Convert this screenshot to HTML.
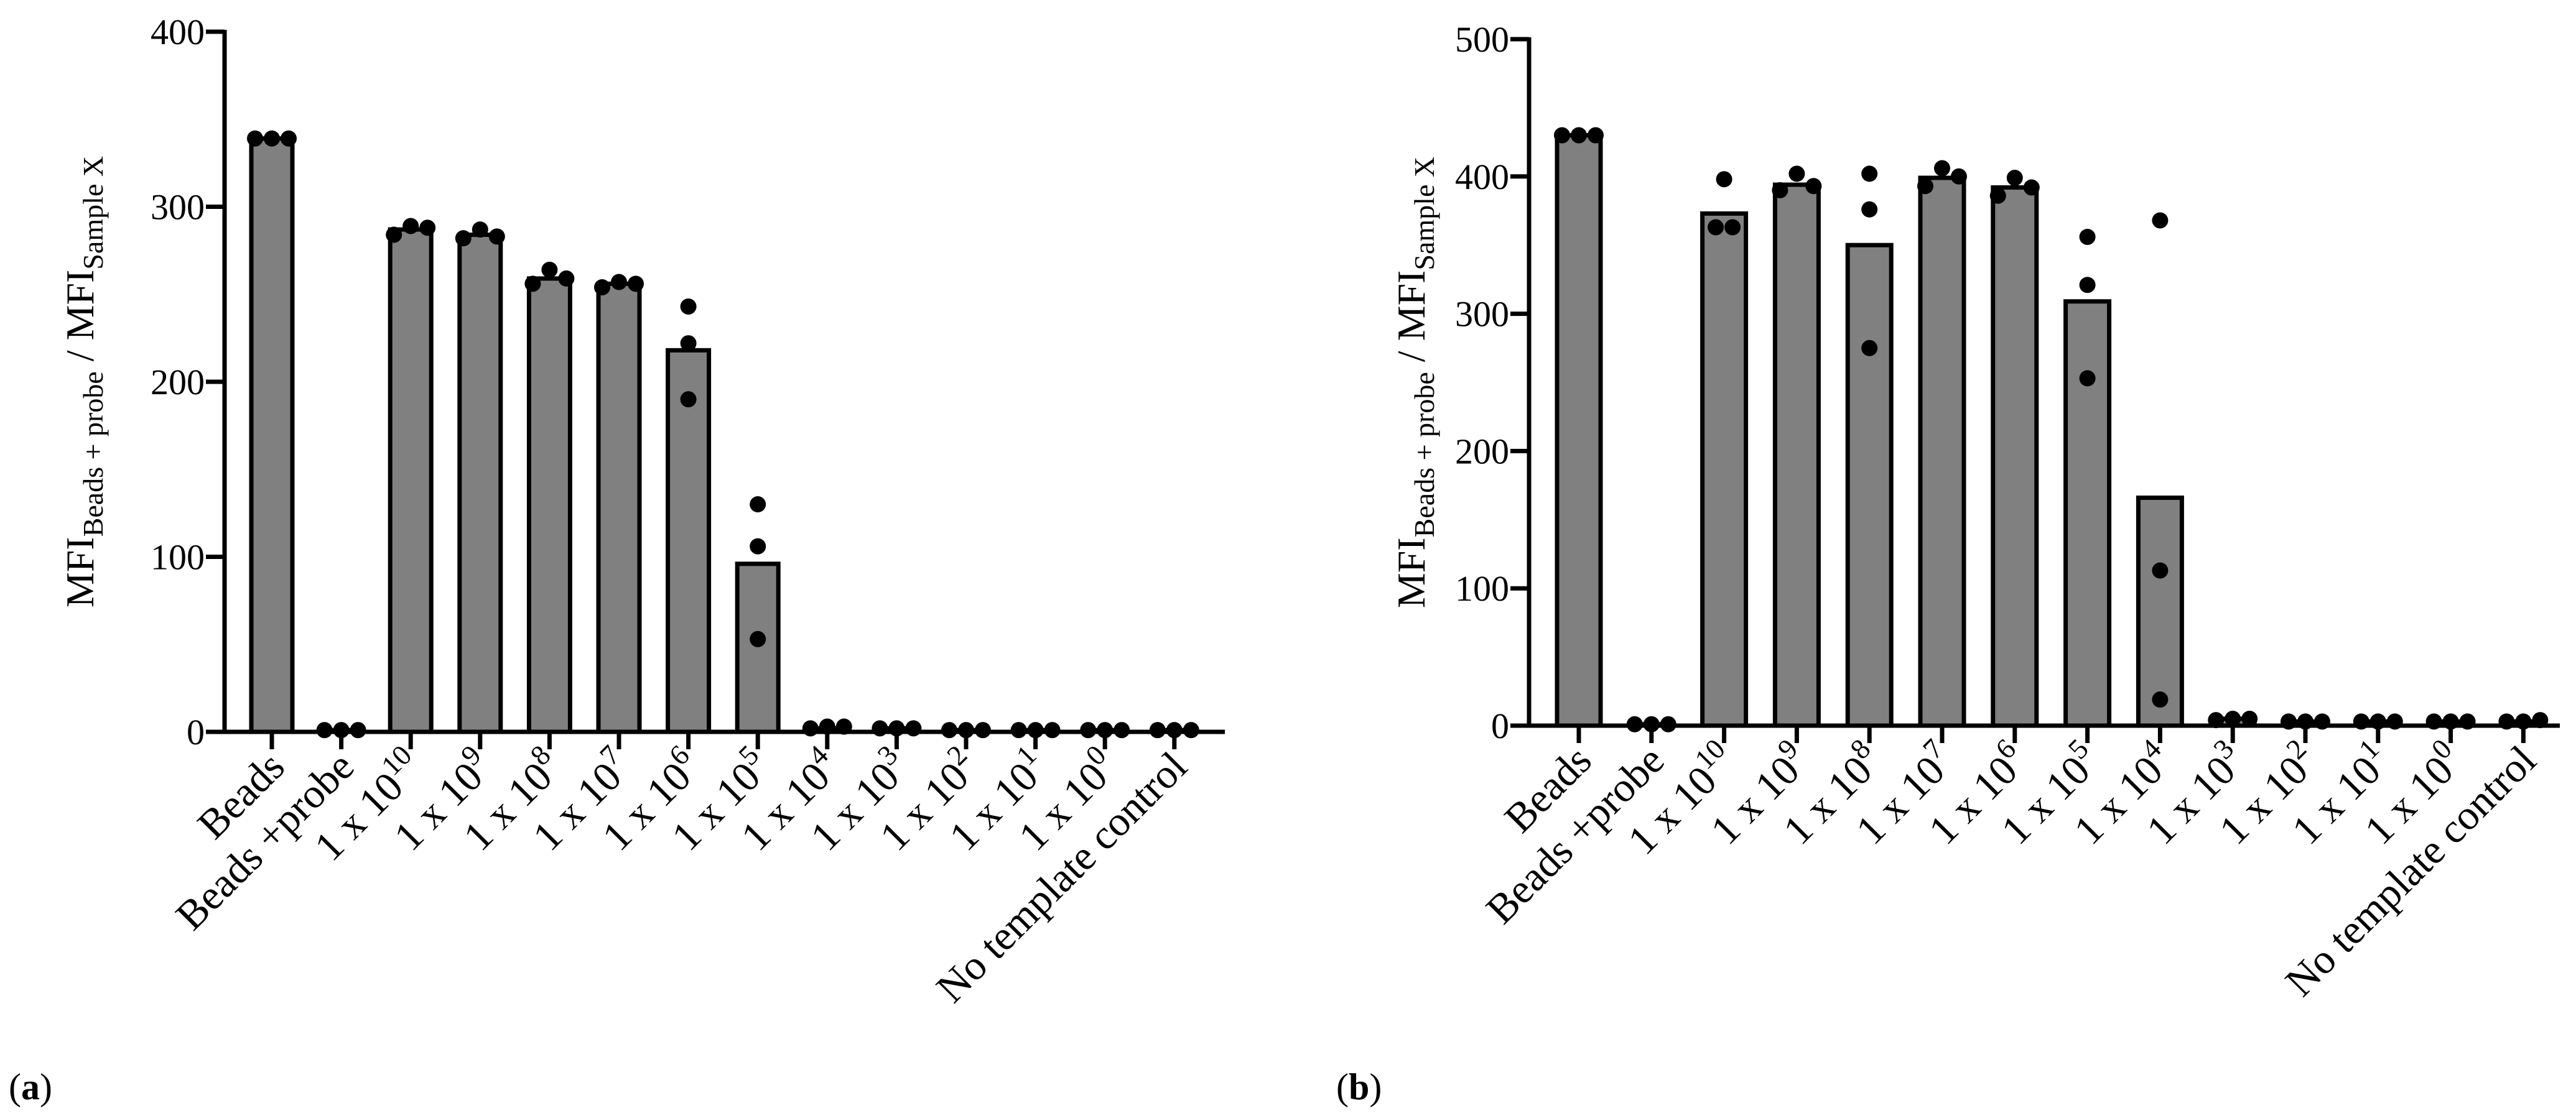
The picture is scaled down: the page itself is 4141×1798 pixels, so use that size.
<!DOCTYPE html>
<html><head><meta charset="utf-8"><style>
html,body{margin:0;padding:0;background:#fff;}
svg{display:block;font-family:"Liberation Serif",serif;}
</style></head><body>
<svg id="fig" width="4141" height="1798" viewBox="0 0 4141 1798">
<text x="14" y="1768" font-size="60">(<tspan font-weight="bold">a</tspan>)</text>
<text x="2148" y="1768" font-size="60">(<tspan font-weight="bold">b</tspan>)</text>
</svg>
<script>
const categories = ["Beads","Beads +probe","1 x 10^10","1 x 10^9","1 x 10^8","1 x 10^7","1 x 10^6","1 x 10^5","1 x 10^4","1 x 10^3","1 x 10^2","1 x 10^1","1 x 10^0","No template control"];
const barsA = [339,1,287,284,259,256,218,96,2,2,1,1,1,1];
const dotsA = [[339,339,339],[1,1,1],[284,289,288],[282,287,283],[256,264,259],[254,257,256],[190,222,243],[53,106,130],[2,3,3],[2,2,2],[1,1,1],[1,1,1],[1,1,1],[1,1,1]];
const ticksA = [0,100,200,300,400];
const barsB = [430,1,373,394,350,399,392,309,166,5,3,3,3,3];
const dotsB = [[430,430,430],[1,1,1],[363,398,363],[390,402,393],[275,376,402],[393,406,400],[386,399,392],[253,321,356],[19,113,368],[4,5,5],[3,3,3],[3,3,3],[3,3,3],[3,3,4]];
const ticksB = [0,100,200,300,400,500];

const NS = "http://www.w3.org/2000/svg";
const svg = document.getElementById("fig");
function mk(tag, attrs, parent){
  const e = document.createElementNS(NS, tag);
  for (const k in attrs) e.setAttribute(k, attrs[k]);
  (parent||svg).appendChild(e);
  return e;
}

function drawChart(cfg){
  const g = mk("g", {});
  
  
  const yMax = cfg.ticks[cfg.ticks.length-1];
  const y = v => cfg.y0 - (v / yMax) * (cfg.y0 - cfg.yTop);
  const x = i => cfg.x0 + i * cfg.step;
  const lw = 7;
  cfg.bars.forEach((v,i)=>{
    const r = mk("rect", {x:x(i)-cfg.bw/2, y:y(v), width:cfg.bw, height:Math.max(cfg.y0-y(v),0), fill:"#808080", stroke:"#000", "stroke-width":lw}, g);
    
    
  });
  const rad = 13;
  cfg.dots.forEach((arr,i)=>{
    const py = arr.map(v=>y(v));
    const coll = arr.map((v,j)=>py.some((p,k)=>k!==j && Math.abs(p-py[j]) < 2*rad));
    const cidx = [];
    coll.forEach((c,j)=>{ if(c) cidx.push(j); });
    arr.forEach((v,j)=>{
      let off = 0;
      if (coll[j]) {
        const n = cidx.length, pos = cidx.indexOf(j);
        off = (pos - (n-1)/2) * (2*rad + 1);
      }
      const c = mk("circle", {cx:x(i)+off, cy:py[j], r:rad, fill:"#000"}, g);
      
      
    });
  });
  const ya = mk("line", {x1:cfg.axX, y1:cfg.yTop-3, x2:cfg.axX, y2:cfg.y0+lw/2, stroke:"#000", "stroke-width":lw}, g);
  
  
  const xa = mk("line", {x1:cfg.axX-lw/2, y1:cfg.y0, x2:cfg.xEnd, y2:cfg.y0, stroke:"#000", "stroke-width":lw}, g);
  
  
  cfg.ticks.forEach(t=>{
    const l = mk("line", {x1:cfg.axX-30, y1:y(t), x2:cfg.axX, y2:y(t), stroke:"#000", "stroke-width":lw}, g);
    
    
    const tx = mk("text", {x:cfg.axX-32, y:y(t)+20, "font-size":58, "text-anchor":"end"}, g);
    tx.textContent = t;
    
    
  });
  categories.forEach((c,i)=>{
    const l = mk("line", {x1:x(i), y1:cfg.y0, x2:x(i), y2:cfg.y0+28, stroke:"#000", "stroke-width":lw}, g);
    
    
    const ax = x(i)+24, ay = cfg.y0+60;
    const tx = mk("text", {x:ax, y:ay, "font-size":67, "text-anchor":"end", transform:`rotate(-45 ${ax} ${ay})`}, g);
    
    
    const parts = c.split("^");
    const t1 = mk("tspan", {}, tx); t1.textContent = parts[0];
    if (parts[1]) {
      const t2 = mk("tspan", {"font-size":46, dy:-28}, tx); t2.textContent = parts[1];
    }
  });
  const cy = (cfg.y0 + cfg.yTop)/2;
  const tt = mk("text", {x:cfg.titleX, y:cy, "font-size":64, "text-anchor":"middle", transform:`rotate(-90 ${cfg.titleX} ${cy})`}, g);
  
  
  const a1 = mk("tspan", {}, tt); a1.textContent = "MFI";
  const a2 = mk("tspan", {"font-size":46, dy:15}, tt); a2.textContent = "Beads + probe";
  const a3 = mk("tspan", {dy:-15}, tt); a3.textContent = " / MFI";
  const a4 = mk("tspan", {"font-size":46, dy:15}, tt); a4.textContent = "Sample X";
}

drawChart({name:"chart-a", bars:barsA, dots:dotsA, ticks:ticksA, axX:361, y0:1177, yTop:51, x0:437, step:111.6, bw:66, xEnd:1969, titleX:150});
drawChart({name:"chart-b", bars:barsB, dots:dotsB, ticks:ticksB, axX:2458, y0:1167, yTop:63, x0:2538, step:116.8, bw:70, xEnd:4115, titleX:2290});
</script>
</body></html>
